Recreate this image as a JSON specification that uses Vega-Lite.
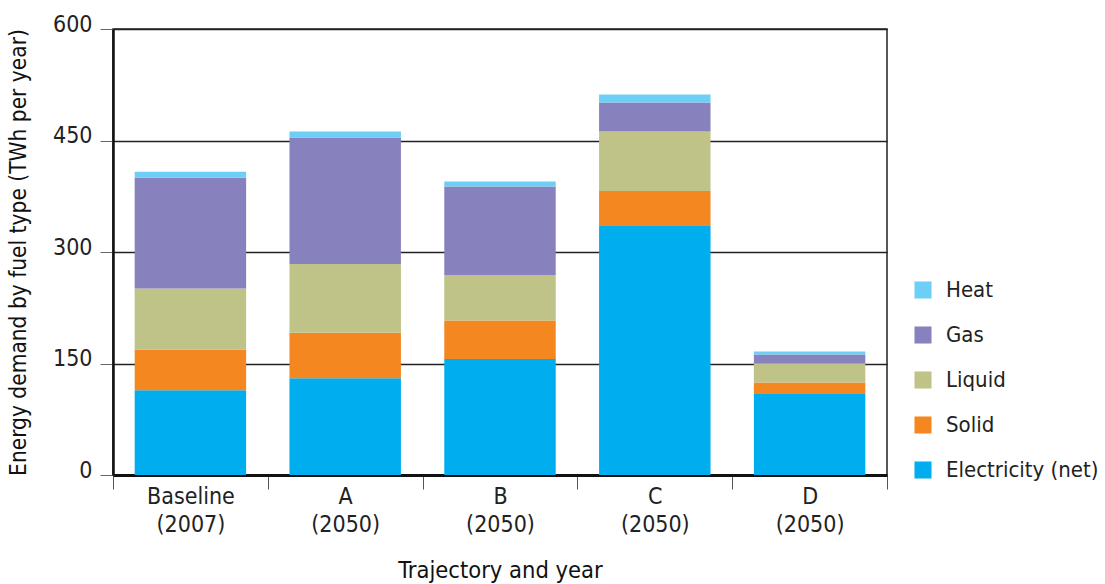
{
  "$schema": "https://vega.github.io/schema/vega-lite/v6.json",
  "autosize": "none",
  "width": 774,
  "height": 446,
  "padding": {"left": 113, "top": 29, "right": 218, "bottom": 109},
  "background": "white",
  "config": {
    "font": "DejaVu Sans Condensed, Roboto, sans-serif",
    "view": {"stroke": "#222", "strokeWidth": 1.5}
  },
  "data": {
    "values": [
      {"traj": "Baseline|(2007)", "fuel": "Electricity (net)", "rank": 1, "twh": 114},
      {"traj": "Baseline|(2007)", "fuel": "Solid", "rank": 2, "twh": 55},
      {"traj": "Baseline|(2007)", "fuel": "Liquid", "rank": 3, "twh": 82},
      {"traj": "Baseline|(2007)", "fuel": "Gas", "rank": 4, "twh": 149},
      {"traj": "Baseline|(2007)", "fuel": "Heat", "rank": 5, "twh": 8},
      {"traj": "A|(2050)", "fuel": "Electricity (net)", "rank": 1, "twh": 130},
      {"traj": "A|(2050)", "fuel": "Solid", "rank": 2, "twh": 61.5},
      {"traj": "A|(2050)", "fuel": "Liquid", "rank": 3, "twh": 92.5},
      {"traj": "A|(2050)", "fuel": "Gas", "rank": 4, "twh": 170},
      {"traj": "A|(2050)", "fuel": "Heat", "rank": 5, "twh": 8},
      {"traj": "B|(2050)", "fuel": "Electricity (net)", "rank": 1, "twh": 156},
      {"traj": "B|(2050)", "fuel": "Solid", "rank": 2, "twh": 52},
      {"traj": "B|(2050)", "fuel": "Liquid", "rank": 3, "twh": 61},
      {"traj": "B|(2050)", "fuel": "Gas", "rank": 4, "twh": 119},
      {"traj": "B|(2050)", "fuel": "Heat", "rank": 5, "twh": 7},
      {"traj": "C|(2050)", "fuel": "Electricity (net)", "rank": 1, "twh": 336},
      {"traj": "C|(2050)", "fuel": "Solid", "rank": 2, "twh": 46},
      {"traj": "C|(2050)", "fuel": "Liquid", "rank": 3, "twh": 80},
      {"traj": "C|(2050)", "fuel": "Gas", "rank": 4, "twh": 39},
      {"traj": "C|(2050)", "fuel": "Heat", "rank": 5, "twh": 11},
      {"traj": "D|(2050)", "fuel": "Electricity (net)", "rank": 1, "twh": 110},
      {"traj": "D|(2050)", "fuel": "Solid", "rank": 2, "twh": 14.5},
      {"traj": "D|(2050)", "fuel": "Liquid", "rank": 3, "twh": 25.5},
      {"traj": "D|(2050)", "fuel": "Gas", "rank": 4, "twh": 12},
      {"traj": "D|(2050)", "fuel": "Heat", "rank": 5, "twh": 4}
    ]
  },
  "mark": {"type": "bar", "width": {"band": 0.72}},
  "encoding": {
    "x": {
      "field": "traj",
      "type": "nominal",
      "sort": null,
      "scale": {"paddingInner": 0, "paddingOuter": 0},
      "axis": {
        "title": "Trajectory and year",
        "titleFontSize": 23.5,
        "titleFontWeight": 500,
        "titleColor": "#111",
        "titlePadding": 22,
        "labelAngle": 0,
        "labelExpr": "split(datum.label, '|')",
        "labelFontSize": 23,
        "labelColor": "#222",
        "labelLineHeight": 28,
        "labelPadding": -4,
        "tickBand": "extent",
        "tickSize": 14,
        "tickColor": "#555",
        "tickWidth": 1,
        "domainColor": "#111",
        "domainWidth": 3
      }
    },
    "y": {
      "field": "twh",
      "type": "quantitative",
      "stack": "zero",
      "scale": {"domain": [0, 600], "nice": false},
      "axis": {
        "title": "Energy demand by fuel type (TWh per year)",
        "titleFontSize": 22.5,
        "titleFontWeight": 500,
        "titleColor": "#111",
        "titlePadding": 22,
        "values": [0, 150, 300, 450, 600],
        "labelFontSize": 23,
        "labelColor": "#222",
        "labelBaseline": "alphabetic",
        "labelOffset": 2,
        "labelPadding": 8,
        "tickSize": 13,
        "tickColor": "#666",
        "domainColor": "#111",
        "domainWidth": 2.5,
        "gridColor": "#222",
        "gridWidth": 1.3,
        "gridOpacity": 1
      }
    },
    "color": {
      "field": "fuel",
      "type": "nominal",
      "scale": {
        "domain": ["Heat", "Gas", "Liquid", "Solid", "Electricity (net)"],
        "range": ["#6DCFF6", "#8781BD", "#BFC387", "#F58720", "#00ADEE"]
      },
      "legend": {
        "title": null,
        "orient": "none",
        "legendX": 799,
        "legendY": 250,
        "symbolType": "square",
        "symbolSize": 290,
        "symbolStrokeWidth": 0,
        "labelFontSize": 22,
        "labelColor": "#222",
        "labelOffset": 12,
        "rowPadding": 23
      }
    },
    "order": {"field": "rank", "type": "quantitative", "sort": "ascending"}
  }
}
